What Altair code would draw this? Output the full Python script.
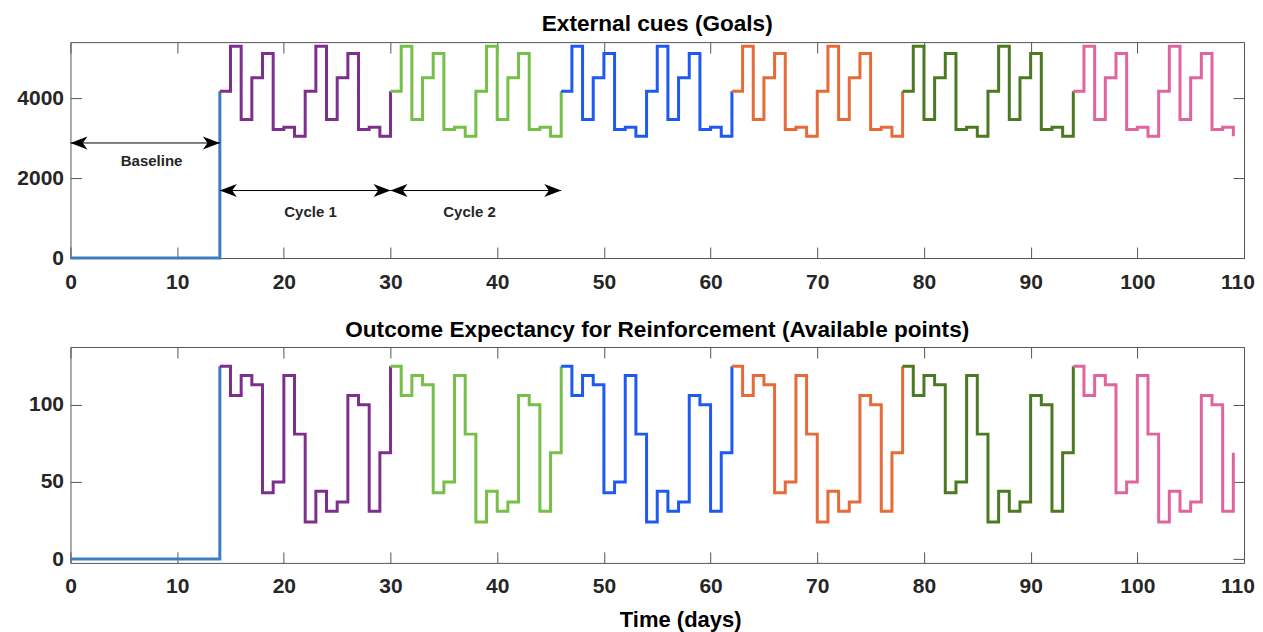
import altair as alt
import pandas as pd

# ---------------- data ----------------
segments = ["Baseline", "Cycle 1", "Cycle 2", "Cycle 3", "Cycle 4", "Cycle 5", "Cycle 6"]
segment_colors = ["#3E7DC0", "#7E2F8E", "#76BF48", "#1F5AF0", "#E56B3A", "#4B7A23", "#E0649E"]
cycle_starts = [14, 30, 46, 62, 78, 94]
baseline_days = list(range(0, 14))

# one 16-day cycle (repeats identically in every cycle)
goal_cycle = [4183, 5313, 3473, 4520, 5130, 3221, 3279, 3053,
              4183, 5313, 3473, 4520, 5130, 3221, 3279, 3053]
points_cycle = [125, 106, 119, 113, 43, 50, 119, 81,
                24, 44, 31, 37, 106, 100, 31, 69]

x_ticks = [0, 10, 20, 30, 40, 50, 60, 70, 80, 90, 100, 110]
goal_ticks = [0, 2000, 4000]
points_ticks = [0, 50, 100]
goal_domain = [0, 5416]
points_domain = [-2.5, 137.5]

# annotations (top panel)
arrow_x1 = [0, 14, 30]
arrow_x2 = [14, 30, 46]
arrow_y = [2886, 1693, 1693]
label_text = ["Baseline", "Cycle 1", "Cycle 2"]
label_x = [7.6, 22.5, 37.4]
label_y = [2423, 1165, 1165]

# ---------------- tables ----------------
rows = []
for d in baseline_days:
    rows.append({"segment": "Baseline", "day": d, "goal": 0, "points": 0})
rows.append({"segment": "Baseline", "day": cycle_starts[0], "goal": goal_cycle[0], "points": points_cycle[0]})
for k, start in enumerate(cycle_starts):
    seg = segments[k + 1]
    for j in range(16):
        rows.append({"segment": seg, "day": start + j, "goal": goal_cycle[j], "points": points_cycle[j]})
    if k < len(cycle_starts) - 1:
        rows.append({"segment": seg, "day": start + 16, "goal": goal_cycle[0], "points": points_cycle[0]})
df = pd.DataFrame(rows)

arrows = pd.DataFrame({"x1": arrow_x1, "x2": arrow_x2, "y": arrow_y})
labels = pd.DataFrame({"text": label_text, "x": label_x, "y": label_y})

W, H = 1174, 216
TICK = 11
FONT = "Liberation Sans"
x_scale = alt.Scale(domain=[0, 110], nice=False, zero=False)
color_enc = alt.Color("segment:N", scale=alt.Scale(domain=segments, range=segment_colors), legend=None)

LEFT_HEAD = "M0,0L2,-0.76L1.45,0L2,0.76Z"
RIGHT_HEAD = "M0,0L-2,-0.76L-1.45,0L-2,0.76Z"

# keep the last x label inside the page width
last_label_shift = {"condition": {"test": "datum.value === 110", "value": -6.5}, "value": 0}


def panel(field, ydomain, yticks, title_text, xtitle):
    ys = alt.Scale(domain=ydomain, nice=False, zero=False)
    base = alt.Chart(df)
    if xtitle:
        xaxis = alt.Axis(values=x_ticks, ticks=False, domain=False, grid=False, labelPadding=13, format="d",
                         labelFlush=False, labelOffset=last_label_shift,
                         title=xtitle, titleFontSize=22, titleFont=FONT, titleFontWeight="bold",
                         titleColor="black", titlePadding=13, titleX=610, titleAlign="center")
    else:
        xaxis = alt.Axis(values=x_ticks, ticks=False, domain=False, grid=False, labelPadding=13, format="d",
                         labelFlush=False, labelOffset=last_label_shift, title=None)
    lines = base.mark_line(interpolate="step-after", strokeWidth=3, strokeJoin="miter").encode(
        x=alt.X("day:Q", scale=x_scale, axis=xaxis),
        y=alt.Y(f"{field}:Q", scale=ys,
                axis=alt.Axis(values=yticks, ticks=False, domain=False, grid=False, labelPadding=7,
                              labelFlush=False, format="d", title=None)),
        color=color_enc,
    )
    ticks_a = base.mark_line(opacity=0).encode(
        x=alt.X("day:Q", scale=x_scale,
                axis=alt.Axis(orient="top", offset=-H, values=x_ticks, labels=False, domain=False, grid=False,
                              ticks=True, tickSize=TICK, tickColor="#555555", title=None)),
        y=alt.Y(f"{field}:Q", scale=ys,
                axis=alt.Axis(orient="right", offset=-W, values=yticks, labels=False, domain=False, grid=False,
                              ticks=True, tickSize=TICK, tickColor="#555555", title=None)),
    )
    ticks_b = base.mark_line(opacity=0).encode(
        x=alt.X("day:Q", scale=x_scale,
                axis=alt.Axis(orient="bottom", offset=-H, values=x_ticks, labels=False, domain=False, grid=False,
                              ticks=True, tickSize=TICK, tickColor="#555555", title=None)),
        y=alt.Y(f"{field}:Q", scale=ys,
                axis=alt.Axis(orient="left", offset=-W, values=yticks, labels=False, domain=False, grid=False,
                              ticks=True, tickSize=TICK, tickColor="#555555", title=None)),
    )
    layers = [ticks_a, ticks_b, lines]
    if field == "goal":
        rule = alt.Chart(arrows).mark_rule(color="black", strokeWidth=1).encode(
            x=alt.X("x1:Q", scale=x_scale, axis=None), x2="x2:Q",
            y=alt.Y("y:Q", scale=ys, axis=None))
        lhead = alt.Chart(arrows).mark_point(shape=LEFT_HEAD, filled=True, size=289, color="black", opacity=1).encode(
            x=alt.X("x1:Q", scale=x_scale, axis=None), y=alt.Y("y:Q", scale=ys, axis=None))
        rhead = alt.Chart(arrows).mark_point(shape=RIGHT_HEAD, filled=True, size=289, color="black", opacity=1).encode(
            x=alt.X("x2:Q", scale=x_scale, axis=None), y=alt.Y("y:Q", scale=ys, axis=None))
        txt = alt.Chart(labels).mark_text(font=FONT, fontSize=15, fontWeight="bold", color="#262626").encode(
            x=alt.X("x:Q", scale=x_scale, axis=None), y=alt.Y("y:Q", scale=ys, axis=None), text="text:N")
        layers += [rule, lhead, rhead, txt]
    return alt.layer(*layers).resolve_axis(x="independent", y="independent").properties(
        width=W, height=H,
        title=alt.TitleParams(title_text, fontSize=22.6, font=FONT, fontWeight="bold", color="black",
                              offset=-13, baseline="alphabetic", anchor="middle"),
    )


top = panel("goal", goal_domain, goal_ticks, "External cues (Goals)", None)
bottom = panel("points", points_domain, points_ticks,
               "Outcome Expectancy for Reinforcement (Available points)", "Time (days)")

chart = alt.vconcat(top, bottom, spacing=25).properties(
    padding={"left": 7.5, "top": 4, "right": 0, "bottom": 0},
    background="white",
).configure_view(stroke="#555555", strokeWidth=1).configure_axis(
    labelFont=FONT, labelFontSize=21, labelFontWeight="bold", labelColor="#262626",
)

chart.save("out.html", embed_options={"renderer": "svg", "actions": False})
